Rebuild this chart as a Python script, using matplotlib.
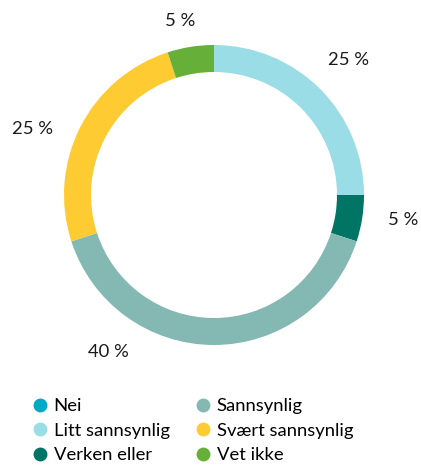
import matplotlib
matplotlib.use("agg")
import matplotlib.pyplot as plt
import numpy as np
from matplotlib.lines import Line2D

# data
categories = ["Nei", "Litt sannsynlig", "Verken eller", "Sannsynlig", "Svært sannsynlig", "Vet ikke"]
values = [0, 25, 5, 40, 25, 5]
colors = ["#00A9C4", "#9ADDE6", "#007565", "#83B9B2", "#FECB33", "#66B03A"]
label_shift = [0, 0, 1.5, -34, 7, 2]  # degrees, nudges the value labels like the original
label_dist = [1.27, 1.27, 1.27, 1.26, 1.29, 1.18]

plt.rcParams['font.family'] = ['Lato', 'DejaVu Sans']

fig = plt.figure(figsize=(4.21, 4.65), dpi=100)
ax = fig.add_axes([0, 0, 1, 1])

cx, cy, R = 214, 270, 150
wedges, _ = ax.pie(values, colors=colors, startangle=90, counterclock=False,
                   radius=R, center=(cx, cy), frame=True,
                   wedgeprops=dict(width=27, linewidth=0))
ax.set_xlim(0, 421)
ax.set_ylim(0, 465)
ax.axis("off")

# value labels
for w, v, s, d in zip(wedges, values, label_shift, label_dist):
	if v == 0:
		continue
	ang = np.deg2rad((w.theta1 + w.theta2) / 2 + s)
	ax.text(cx + R*d*np.cos(ang), cy + R*d*np.sin(ang), f"{v} %",
			ha="center", va="center", fontsize=13.3, color="#1a1a1a")

# legend
handles = [Line2D([], [], linestyle="none", marker="o", markersize=10,
				  markerfacecolor=c, markeredgewidth=0) for c in colors]
fig.legend(handles, categories, ncol=2, loc="upper left",
		   bbox_to_anchor=(24/421, 1 - 389/465), frameon=False,
		   fontsize=13.3, borderpad=0, handlelength=0.75, handletextpad=0.35,
		   labelspacing=0.46, columnspacing=1.45)

fig.savefig("out.png", dpi=100)
